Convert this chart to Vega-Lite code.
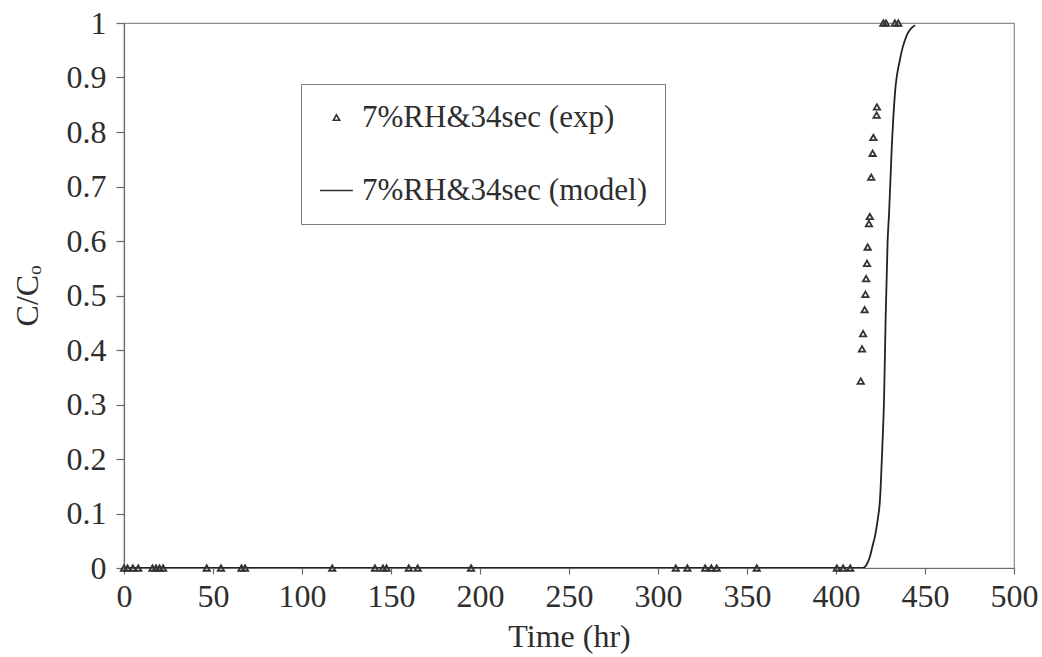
{
  "$schema": "https://vega.github.io/schema/vega-lite/v6.json",
  "width": 890,
  "height": 545,
  "autosize": "none",
  "padding": {"left": 124, "top": 23, "right": 28, "bottom": 89},
  "background": "white",
  "config": {
    "font": "Liberation Serif",
    "view": {"stroke": "#8c8c8c", "strokeWidth": 1.2},
    "axis": {
      "grid": false,
      "domainColor": "#6a6a6a",
      "domainWidth": 1.2,
      "tickColor": "#6a6a6a",
      "tickWidth": 1.2,
      "labelFont": "Liberation Serif",
      "labelFontSize": 32,
      "labelColor": "#2e2e2e",
      "labelFlush": false,
      "labelOverlap": false,
      "titleFont": "Liberation Serif",
      "titleFontSize": 32,
      "titleFontWeight": "normal",
      "titleColor": "#2e2e2e"
    },
    "legend": {
      "labelFont": "Liberation Serif",
      "labelFontSize": 31,
      "labelColor": "#2e2e2e"
    }
  },
  "datasets": {
    "exp": [
      {"time": 0, "ratio": 0}, {"time": 2, "ratio": 0}, {"time": 5, "ratio": 0}, {"time": 8, "ratio": 0},
      {"time": 16, "ratio": 0}, {"time": 18, "ratio": 0}, {"time": 20, "ratio": 0}, {"time": 22, "ratio": 0},
      {"time": 46.5, "ratio": 0}, {"time": 54.5, "ratio": 0}, {"time": 66, "ratio": 0}, {"time": 68, "ratio": 0},
      {"time": 117, "ratio": 0}, {"time": 141, "ratio": 0}, {"time": 145.5, "ratio": 0}, {"time": 147.5, "ratio": 0},
      {"time": 160, "ratio": 0}, {"time": 165, "ratio": 0}, {"time": 195, "ratio": 0},
      {"time": 310, "ratio": 0}, {"time": 316.5, "ratio": 0}, {"time": 326.5, "ratio": 0}, {"time": 330, "ratio": 0},
      {"time": 333, "ratio": 0}, {"time": 355.5, "ratio": 0}, {"time": 400.5, "ratio": 0}, {"time": 404, "ratio": 0},
      {"time": 408, "ratio": 0},
      {"time": 413.9, "ratio": 0.343}, {"time": 414.6, "ratio": 0.402}, {"time": 415.2, "ratio": 0.43},
      {"time": 416.1, "ratio": 0.474}, {"time": 416.5, "ratio": 0.502}, {"time": 416.9, "ratio": 0.531},
      {"time": 417.4, "ratio": 0.559}, {"time": 417.8, "ratio": 0.589}, {"time": 418.5, "ratio": 0.632},
      {"time": 419, "ratio": 0.645}, {"time": 419.8, "ratio": 0.717}, {"time": 420.6, "ratio": 0.761},
      {"time": 421, "ratio": 0.79}, {"time": 422.8, "ratio": 0.831}, {"time": 423, "ratio": 0.846},
      {"time": 426.6, "ratio": 1}, {"time": 428.1, "ratio": 1}, {"time": 433.1, "ratio": 1}, {"time": 435, "ratio": 1}
    ],
    "model": [
      {"time": 0, "ratio": 0}, {"time": 415, "ratio": 0}, {"time": 417, "ratio": 0.005},
      {"time": 419, "ratio": 0.02}, {"time": 420.5, "ratio": 0.04}, {"time": 422, "ratio": 0.06},
      {"time": 423.5, "ratio": 0.09}, {"time": 424.7, "ratio": 0.125}, {"time": 426, "ratio": 0.22},
      {"time": 427, "ratio": 0.31}, {"time": 427.9, "ratio": 0.46}, {"time": 429, "ratio": 0.6},
      {"time": 429.8, "ratio": 0.65}, {"time": 431.3, "ratio": 0.77}, {"time": 433.1, "ratio": 0.87},
      {"time": 436, "ratio": 0.934}, {"time": 439.7, "ratio": 0.977}, {"time": 444.4, "ratio": 0.996}
    ]
  },
  "layer": [
    {
      "data": {"name": "model"},
      "mark": {"type": "line", "color": "#222222", "strokeWidth": 1.8, "clip": true, "interpolate": "monotone"},
      "encoding": {
        "x": {
          "field": "time", "type": "quantitative",
          "scale": {"domain": [0, 500], "nice": false},
          "axis": {
            "title": "Time (hr)",
            "values": [0, 50, 100, 150, 200, 250, 300, 350, 400, 450, 500],
            "tickSize": 6, "labelPadding": 7, "titlePadding": 9
          }
        },
        "y": {
          "field": "ratio", "type": "quantitative",
          "scale": {"domain": [0, 1], "nice": false},
          "axis": {
            "title": "C/Cₒ",
            "format": "~g",
            "values": [0, 0.1, 0.2, 0.3, 0.4, 0.5, 0.6, 0.7, 0.8, 0.9, 1],
            "tickSize": 8, "labelPadding": 10, "titlePadding": 22
          }
        }
      }
    },
    {
      "data": {"name": "exp"},
      "transform": [{"calculate": "'7%RH&34sec (exp)'", "as": "series"}],
      "mark": {"type": "point", "filled": false, "strokeWidth": 1.8, "color": "#333333", "opacity": 1},
      "encoding": {
        "x": {"field": "time", "type": "quantitative"},
        "y": {"field": "ratio", "type": "quantitative"},
        "size": {
          "field": "series", "type": "nominal",
          "scale": {"domain": ["7%RH&34sec (exp)", "7%RH&34sec (model)"], "range": [40, 1089]}
        },
        "shape": {
          "field": "series", "type": "nominal",
          "scale": {"domain": ["7%RH&34sec (exp)", "7%RH&34sec (model)"], "range": ["triangle-up", "stroke"]},
          "legend": {
            "title": null,
            "orient": "none",
            "legendX": 177,
            "legendY": 61,
            "padding": 18,
            "strokeColor": "#7a7a7a",
            "fillColor": "white",
            "symbolStrokeColor": "#333333",
            "symbolStrokeWidth": 1.6,
            "symbolFillColor": "transparent",
            "labelOffset": 8,
            "rowPadding": 40,
            "labelLimit": 400
          }
        }
      }
    }
  ]
}
